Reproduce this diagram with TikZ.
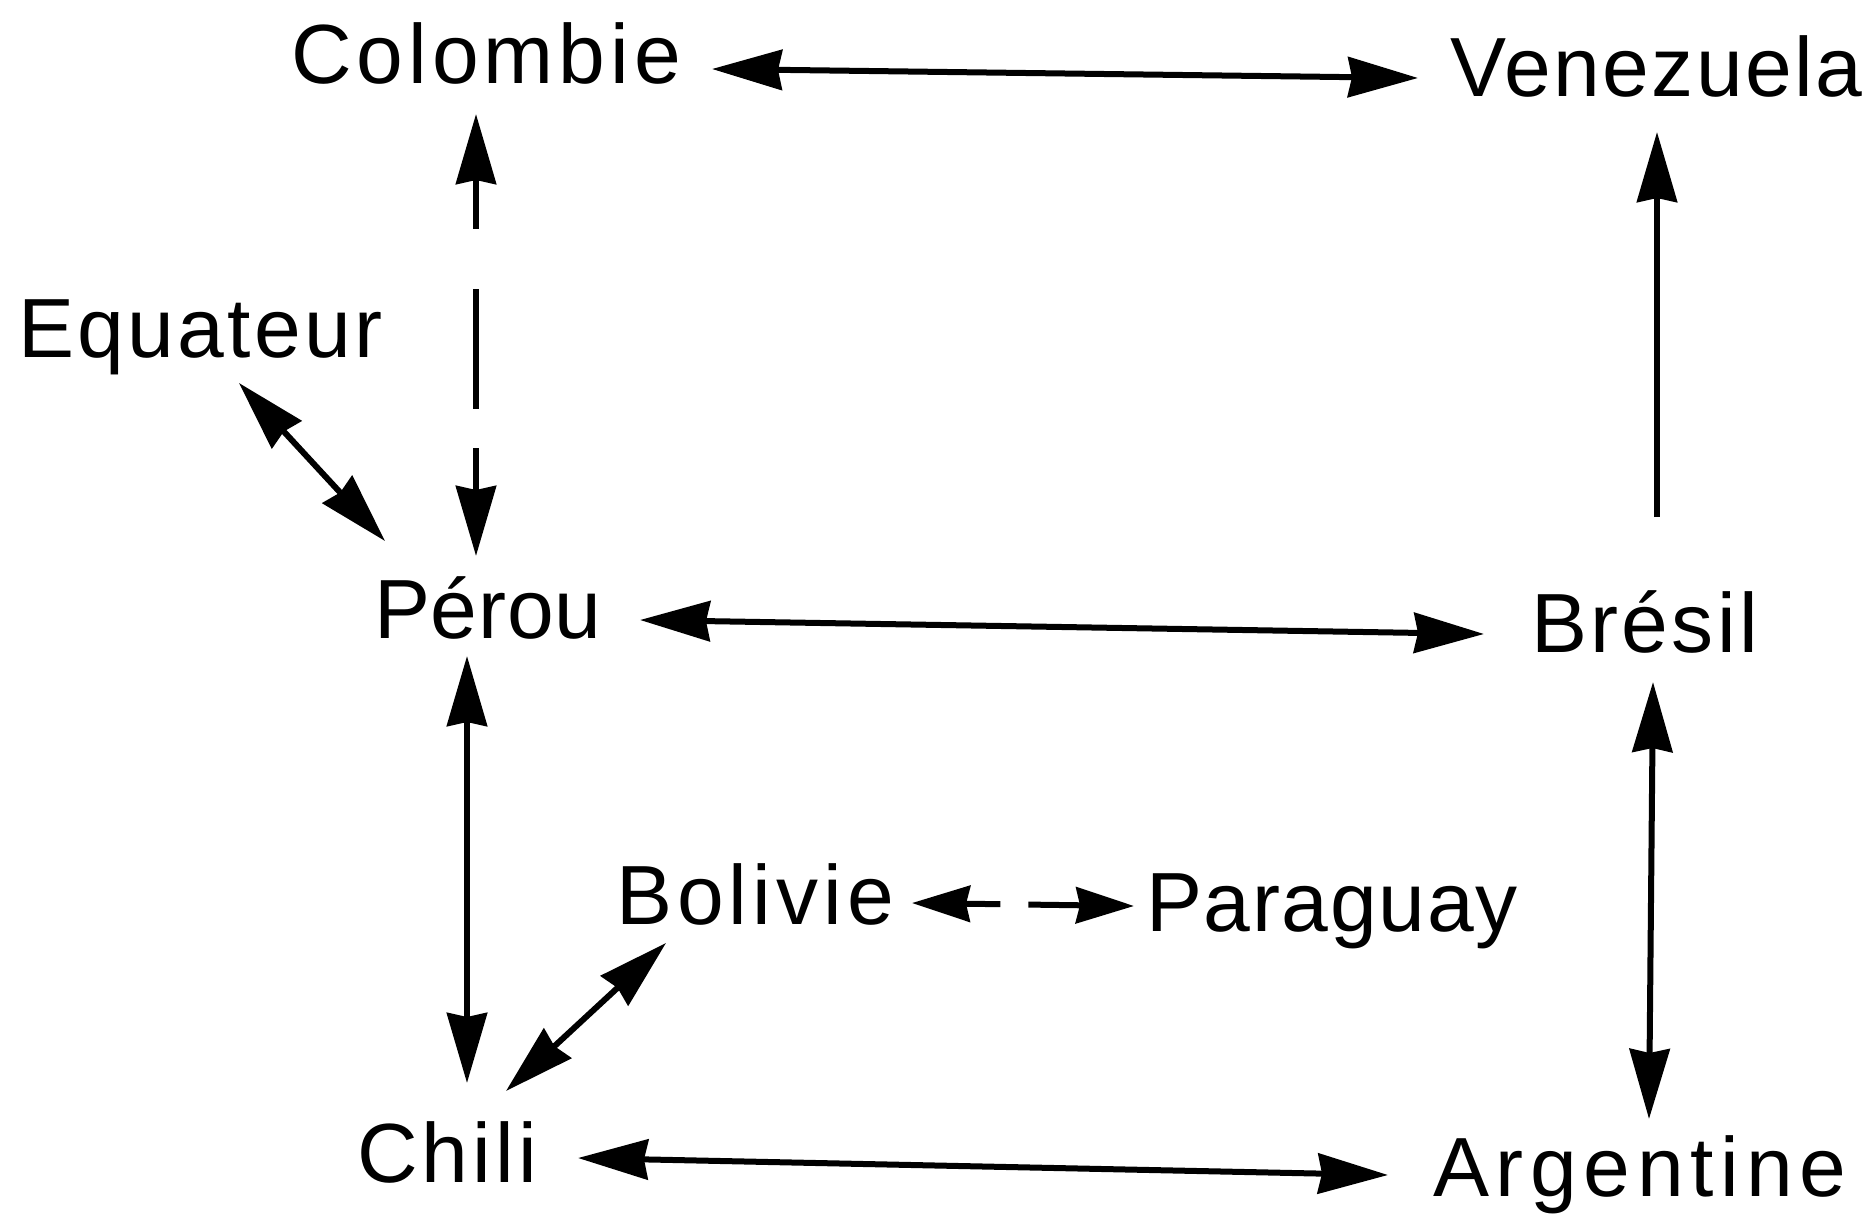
\documentclass[tikz,border=0pt]{standalone}
\usepackage{fontspec}
\setmainfont{Liberation Sans}
\newfontfamily\lblfont{Liberation Sans}
\usetikzlibrary{arrows.meta}
\tikzset{
  bigtip/.tip={Stealth[length=70pt,width=40pt,inset=4pt]},
  smalltip/.tip={Stealth[length=58pt,width=36pt,inset=4pt]},
  lbl/.style={anchor=base west, inner sep=0pt, font=\lblfont\fontsize{84pt}{96pt}\selectfont},
  link/.style={line width=6pt, bigtip-bigtip},
  onelink/.style={line width=6pt, -bigtip},
  smalllink/.style={line width=6pt, smalltip-smalltip}
}
\newcommand{\ls}[1]{\addfontfeatures{LetterSpace=#1}}
\begin{document}
\begin{tikzpicture}[x=1pt,y=-1pt]
\useasboundingbox (0,0) rectangle (1876,1215);
\node[lbl] (colombie)  at (291,84)   {\ls{6}Colombie};
\node[lbl] (venezuela) at (1450,96)  {\ls{3}Venezuela};
\node[lbl] (equateur)  at (18,357)   {\ls{4}Equateur};
\node[lbl] (perou)     at (374,638)  {\ls{1}Pérou};
\node[lbl] (bresil)    at (1531,652) {\ls{4}Brésil};
\node[lbl] (bolivie)   at (616,924)  {\ls{6}Bolivie};
\node[lbl] (paraguay)  at (1146,931) {\ls{2}Paraguay};
\node[lbl] (chili)     at (357,1182) {\ls{5}Chili};
\node[lbl] (argentine) at (1433,1196){\ls{8}Argentine};

% Colombie <-> Venezuela
\draw[link] ([shift={(421,-15)}]colombie.base west) -- ([shift={(-32,-18)}]venezuela.base west);
% Colombie <-> Perou (broken line)
\draw[link, dash pattern=on 51pt off 60pt on 120pt off 39pt on 300pt]
  ([shift={(185,30)}]colombie.base west) -- ([shift={(102,-82)}]perou.base west);
% Bresil -> Venezuela
\draw[onelink] ([shift={(126,-135)}]bresil.base west) -- ([shift={(207,36)}]venezuela.base west);
% Perou <-> Bresil
\draw[link] ([shift={(266,-18)}]perou.base west) -- ([shift={(-47,-18)}]bresil.base west);
% Perou <-> Chili
\draw[link] ([shift={(93,18)}]perou.base west) -- ([shift={(110,-99)}]chili.base west);
% Bresil <-> Argentine
\draw[link] ([shift={(122,30)}]bresil.base west) -- ([shift={(216,-77)}]argentine.base west);
% Chili <-> Argentine
\draw[link] ([shift={(221,-24)}]chili.base west) -- ([shift={(-45,-21)}]argentine.base west);
% Equateur <-> Perou
\draw[link] ([shift={(221,26)}]equateur.base west) -- ([shift={(11,-97)}]perou.base west);
% Bolivie <-> Chili
\draw[link] ([shift={(50,19)}]bolivie.base west) -- ([shift={(149,-91)}]chili.base west);
% Bolivie <-> Paraguay (broken)
\draw[smalllink, dash pattern=on 36pt off 28pt on 100pt]
  ([shift={(296,-21)}]bolivie.base west) -- ([shift={(-12,-25)}]paraguay.base west);
\end{tikzpicture}
\end{document}
